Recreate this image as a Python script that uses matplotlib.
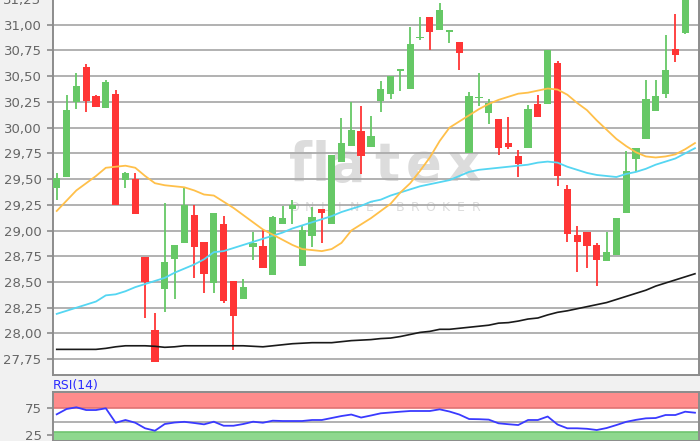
import numpy as np
import matplotlib
matplotlib.use('Agg')
import matplotlib.pyplot as plt

# --- Kursdaten ---
opens = [29.41, 29.52, 30.25, 30.59, 30.31, 30.19, 30.33, 29.49, 29.50, 28.74,
         28.03, 28.43, 28.72, 28.88, 29.15, 28.89, 28.49, 29.06, 28.51, 28.33,
         28.84, 28.85, 28.57, 29.06, 29.21, 28.66, 28.95, 29.21, 29.06, 29.67,
         29.82, 29.97, 29.81, 30.26, 30.33, 30.55, 30.38, 30.87, 31.08, 30.95,
         30.93, 30.83, 29.75, 30.29, 30.14, 30.08, 29.85, 29.72, 29.80, 30.23,
         30.23, 30.63, 29.40, 28.96, 28.99, 28.86, 28.70, 28.76, 29.17, 29.70,
         29.89, 30.16, 30.33, 30.76, 30.92]
highs = [29.56, 30.32, 30.53, 30.62, 30.32, 30.46, 30.37, 29.57, 29.56, 28.74,
         28.20, 29.27, 28.86, 29.42, 29.25, 28.89, 29.17, 29.14, 28.51, 28.53,
         28.99, 29.01, 29.14, 29.24, 29.30, 29.05, 29.23, 29.21, 29.73, 30.09,
         30.25, 30.21, 30.11, 30.45, 30.50, 30.57, 30.98, 31.08, 31.08, 31.21,
         30.95, 30.83, 30.35, 30.53, 30.28, 30.08, 30.10, 29.78, 30.22, 30.32,
         30.75, 30.65, 29.44, 29.04, 28.99, 28.88, 28.99, 29.125, 29.77, 29.80,
         30.46, 30.46, 30.90, 31.10, 31.40]
lows = [29.30, 29.52, 30.18, 30.15, 30.20, 30.19, 29.25, 29.41, 29.16, 28.15,
        27.72, 28.21, 28.33, 28.88, 28.54, 28.39, 28.39, 28.30, 27.84, 28.33,
        28.71, 28.64, 28.57, 29.06, 29.06, 28.66, 28.84, 28.88, 29.06, 29.67,
        29.82, 29.55, 29.81, 30.15, 30.28, 30.36, 30.38, 30.85, 30.75, 30.95,
        30.82, 30.56, 29.75, 30.21, 30.04, 29.73, 29.79, 29.52, 29.80, 30.10,
        30.23, 29.43, 28.89, 28.60, 28.64, 28.46, 28.70, 28.76, 29.17, 29.57,
        29.89, 30.16, 30.29, 30.64, 30.91]
closes = [29.51, 30.17, 30.40, 30.26, 30.20, 30.44, 29.25, 29.56, 29.16, 28.50,
          27.72, 28.69, 28.86, 29.25, 28.84, 28.58, 29.17, 28.32, 28.17, 28.45,
          28.88, 28.64, 29.13, 29.125, 29.25, 29.01, 29.13, 29.17, 29.73, 29.85,
          29.98, 29.72, 29.92, 30.38, 30.50, 30.57, 30.81, 30.88, 30.93, 31.14,
          30.95, 30.73, 30.31, 30.30, 30.24, 29.80, 29.81, 29.65, 30.18, 30.10,
          30.75, 29.53, 28.97, 28.89, 28.85, 28.71, 28.79, 29.125, 29.58, 29.80,
          30.28, 30.31, 30.56, 30.71, 31.40]

# gleitende Durchschnitte (ein Wert mehr als Kerzen)
ma_orange = [29.19, 29.29, 29.39, 29.46, 29.53, 29.61, 29.62, 29.63, 29.61, 29.53,
             29.46, 29.44, 29.43, 29.42, 29.39, 29.35, 29.34, 29.28, 29.22, 29.15,
             29.08, 29.01, 28.96, 28.91, 28.86, 28.82, 28.81, 28.80, 28.82, 28.88,
             29.00, 29.06, 29.12, 29.19, 29.26, 29.37, 29.46, 29.58, 29.71, 29.87,
             30.00, 30.06, 30.12, 30.18, 30.23, 30.27, 30.30, 30.33, 30.34, 30.36,
             30.38, 30.37, 30.32, 30.24, 30.17, 30.07, 29.98, 29.89, 29.82, 29.76,
             29.72, 29.71, 29.72, 29.74, 29.79, 29.85]
ma_cyan = [28.19, 28.22, 28.25, 28.28, 28.31, 28.37, 28.38, 28.41, 28.45, 28.48,
           28.51, 28.54, 28.59, 28.63, 28.67, 28.72, 28.79, 28.80, 28.83, 28.86,
           28.89, 28.92, 28.95, 28.98, 29.02, 29.05, 29.08, 29.11, 29.14, 29.18,
           29.21, 29.24, 29.28, 29.30, 29.34, 29.37, 29.40, 29.43, 29.45, 29.47,
           29.49, 29.53, 29.57, 29.59, 29.60, 29.61, 29.62, 29.63, 29.64, 29.66,
           29.67, 29.66, 29.62, 29.59, 29.56, 29.54, 29.53, 29.52, 29.55, 29.57,
           29.60, 29.64, 29.67, 29.70, 29.75, 29.80]
ma_black = [27.845, 27.845, 27.845, 27.845, 27.845, 27.855, 27.87, 27.88, 27.88, 27.88,
            27.875, 27.865, 27.87, 27.88, 27.88, 27.88, 27.88, 27.88, 27.88, 27.88,
            27.875, 27.87, 27.88, 27.89, 27.90, 27.905, 27.91, 27.91, 27.91, 27.92,
            27.93, 27.935, 27.94, 27.95, 27.955, 27.97, 27.99, 28.01, 28.02, 28.04,
            28.04, 28.05, 28.06, 28.07, 28.08, 28.10, 28.105, 28.12, 28.14, 28.15,
            28.18, 28.205, 28.22, 28.24, 28.26, 28.28, 28.30, 28.33, 28.36, 28.39,
            28.42, 28.46, 28.49, 28.52, 28.55, 28.58]
rsi = [63.8, 73.7, 76.9, 71.8, 71.8, 75.0, 48.1, 53.2, 48.1, 37.7,
       33.2, 45.7, 48.5, 49.8, 47.6, 45.1, 50.0, 42.5, 42.5, 45.7,
       50.0, 48.1, 51.9, 51.3, 51.3, 51.3, 53.2, 53.2, 56.9, 60.6,
       63.4, 57.8, 61.6, 65.7, 67.2, 68.7, 70.0, 70.0, 70.0, 73.1,
       69.0, 63.4, 55.0, 54.7, 53.9, 47.0, 45.3, 43.8, 53.2, 53.2,
       59.7, 44.8, 37.7, 37.7, 36.8, 34.5, 38.2, 43.8, 49.8, 53.5,
       56.3, 56.9, 62.5, 62.5, 68.7, 66.8]

price_ticks = [27.75, 28.00, 28.25, 28.50, 28.75, 29.00, 29.25, 29.50,
               29.75, 30.00, 30.25, 30.50, 30.75, 31.00, 31.25]
price_labels = ['27,75', '28,00', '28,25', '28,50', '28,75', '29,00', '29,25', '29,50',
                '29,75', '30,00', '30,25', '30,50', '30,75', '31,00', '31,25']
rsi_ticks = [25, 75]

GREEN = '#66c866'
RED = '#ff3535'
GRID = '#ababab'
SPINE = '#8c8c8c'
LABEL = '#666666'

W, H = 700, 441
fig = plt.figure(figsize=(7, 4.41), dpi=100, facecolor='#f1f1f1')

# --- Hauptchart ---
ax = fig.add_axes([52.7 / W, 1 - 375 / H, 646 / W, 376.5 / H])
ax.set_facecolor('white')

o = np.array(opens); h = np.array(highs); l = np.array(lows); c = np.array(closes)
x = np.arange(len(o))
up = c >= o
cols = np.where(up, GREEN, RED)

ax.vlines(x, l, h, colors=cols, linewidth=1.3, zorder=3)
body_lo = np.minimum(o, c)
body_h = np.maximum(np.abs(c - o), 0.012)
ax.bar(x, body_h, bottom=body_lo, width=0.74, color=cols, linewidth=0, zorder=3)

xm = np.arange(len(ma_orange))
ax.plot(xm, ma_black, color='#1a1a1a', linewidth=1.2, zorder=4)
ax.plot(xm, ma_cyan, color='#55d6f2', linewidth=1.3, zorder=4)
ax.plot(xm, ma_orange, color='#ffc04a', linewidth=1.3, zorder=4)

xlim = (-0.41, 65.38)
ax.set_xlim(*xlim)
ax.set_ylim(27.596, 31.255)
ax.set_yticks(price_ticks)
ax.set_yticklabels(price_labels)
ax.set_xticks([])
ax.grid(True, axis='y', color=GRID, linewidth=1.3)
ax.set_axisbelow(True)
ax.tick_params(axis='y', colors=SPINE, labelcolor=LABEL, labelsize=9.5, length=4, width=1.2, pad=4)
for s in ['left', 'bottom', 'right']:
    ax.spines[s].set_color(SPINE)
    ax.spines[s].set_linewidth(1.4)
ax.spines['top'].set_visible(False)

# Wasserzeichen
wm = '#dcdcdc'
for ch, px in zip('flatex', [300, 321, 347, 387, 424, 463]):
    ax.text(px / W, 1 - 181 / H, ch, transform=fig.transFigure, fontsize=38,
            fontweight='bold', color=wm, ha='center', va='baseline', zorder=0.2)
for ch, px in zip('ONLINE BROKER', np.linspace(294, 476, 13)):
    ax.text(px / W, 1 - 207 / H, ch, transform=fig.transFigure, fontsize=9,
            color=wm, ha='center', va='center', zorder=0.2)

# --- RSI ---
ax2 = fig.add_axes([52.7 / W, 0, 646 / W, 1 - 392.3 / H])
ax2.set_facecolor('white')
ax2.set_xlim(*xlim)
ax2.set_ylim(14, 104.9)
ax2.axhspan(75, 110, color='#ff8c8c', linewidth=0, zorder=0.5)
ax2.axhline(75, color='#e07272', linewidth=1.2, zorder=0.6)
ax2.axhspan(0, 30, color='#8ed88e', linewidth=0, zorder=0.5)
ax2.axhline(30, color='#6fc46f', linewidth=1.2, zorder=0.6)
ax2.axhline(50, color=GRID, linewidth=1.3, zorder=0.6)
ax2.plot(np.arange(len(rsi)), rsi, color='#3a3aff', linewidth=1.3, zorder=3)
ax2.set_yticks(rsi_ticks)
ax2.set_xticks([])
ax2.tick_params(axis='y', colors=SPINE, labelcolor=LABEL, labelsize=9.5, length=4, width=1.2, pad=4)
for s in ax2.spines.values():
    s.set_color(SPINE)
    s.set_linewidth(1.4)

fig.text(53 / W, 1 - 385 / H, 'RSI(14)', color='#2b2bff', fontsize=9, ha='left', va='center')

fig.savefig('out.png', dpi=100, facecolor=fig.get_facecolor())
